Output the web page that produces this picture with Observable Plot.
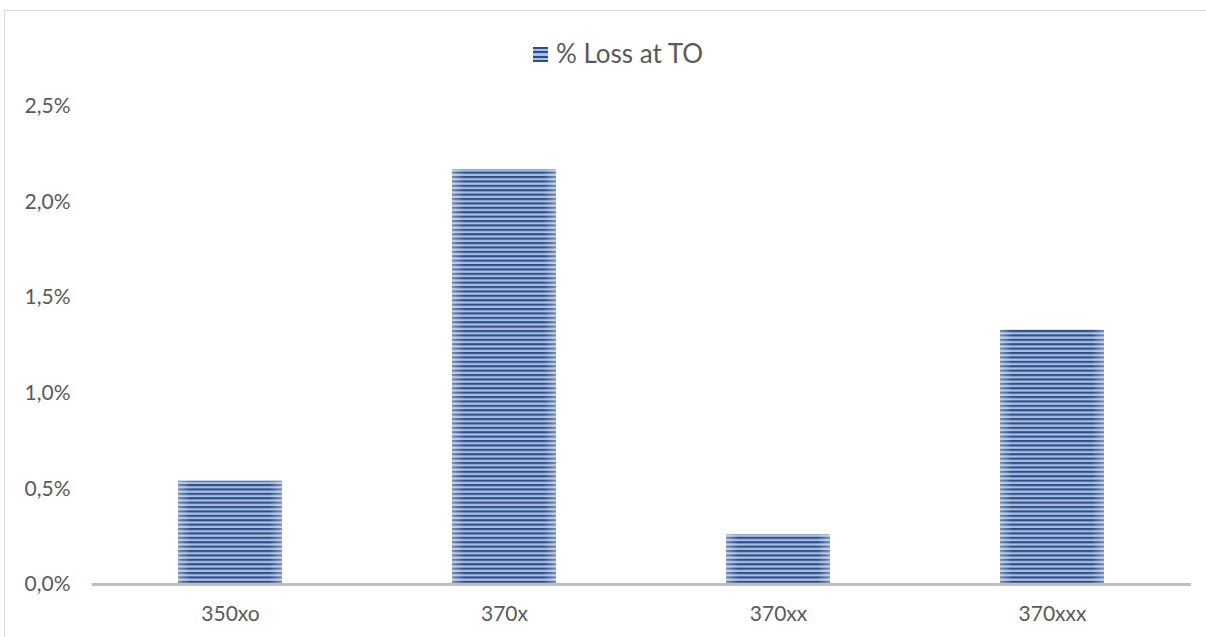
<!DOCTYPE html>
<html><head><meta charset="utf-8">
<script src="https://cdn.jsdelivr.net/npm/d3@7"></script>
<script src="https://cdn.jsdelivr.net/npm/@observablehq/plot@0.6"></script>
<style>
body{margin:0;background:#fff;font-family:Lato,"Open Sans",sans-serif;}
#wrap{position:relative;width:1206px;height:637px;overflow:hidden;}
#frame{position:absolute;left:4px;top:10px;width:1300px;height:700px;border:1px solid #d9d9d9;box-sizing:border-box;}
#legend{position:absolute;top:38px;left:0;width:1236px;text-align:center;font-size:26px;color:#595959;line-height:30px;}
#legend .sw{display:inline-block;width:15px;height:15px;vertical-align:1px;margin-right:8px;
 background:repeating-linear-gradient(to bottom,#2c4d87 0,#2c4d87 2px,#a9bee2 2px,#a9bee2 4.4px);}
#chart{position:absolute;left:0;top:0;}
</style></head>
<body><div id="wrap"><div id="frame"></div><div id="legend"><span class="sw"></span>% Loss at TO</div><div id="chart"></div></div>
<script>
const categories = ["350xo","370x","370xx","370xxx"];
const values = [0.0054, 0.0217, 0.0026, 0.0133];
const yTicks = [0,0.005,0.01,0.015,0.02,0.025];
const seriesName = "% Loss at TO";

const data = categories.map((c,i)=>({cat:c, v:values[i]}));
const fmt = d => d3.format(".1%")(d).replace(".", ",");

const plot = Plot.plot({
  width:1206, height:637,
  marginTop:106, marginBottom:53, marginLeft:92, marginRight:15,
  style:{fontFamily:"Lato, 'Open Sans', sans-serif", fontSize:"21px", color:"#595959", background:"transparent"},
  x:{domain:categories, paddingInner:0.62, paddingOuter:0.31, label:null, tickSize:0, tickPadding:22},
  y:{domain:[0,0.025], ticks:yTicks, tickFormat:fmt, label:null, tickSize:0, tickPadding:22},
  marks:[
    Plot.barY(data,{x:"cat", y:"v", fill:"url(#stripes)"}),
    Plot.barY(data,{x:"cat", y:"v", fill:"url(#shade)"}),
    Plot.ruleY([0],{stroke:"#bfbfbf", strokeWidth:3})
  ]
});
const svg = d3.select(plot);
const defs = svg.insert("defs",":first-child");
const p = defs.append("pattern").attr("id","stripes").attr("patternUnits","userSpaceOnUse")
  .attr("width",10).attr("height",4.4);
p.append("rect").attr("width",10).attr("height",4.4).attr("fill","#a9bee2");
p.append("rect").attr("width",10).attr("height",2.1).attr("fill","#2c4d87");
const g = defs.append("linearGradient").attr("id","shade").attr("x1","0").attr("x2","1").attr("y1","0").attr("y2","0");
g.append("stop").attr("offset","0").attr("stop-color","#ffffff").attr("stop-opacity",0.35);
g.append("stop").attr("offset","0.12").attr("stop-color","#ffffff").attr("stop-opacity",0);
g.append("stop").attr("offset","0.88").attr("stop-color","#ffffff").attr("stop-opacity",0);
g.append("stop").attr("offset","1").attr("stop-color","#ffffff").attr("stop-opacity",0.35);
document.getElementById("chart").appendChild(plot);
</script></body></html>
